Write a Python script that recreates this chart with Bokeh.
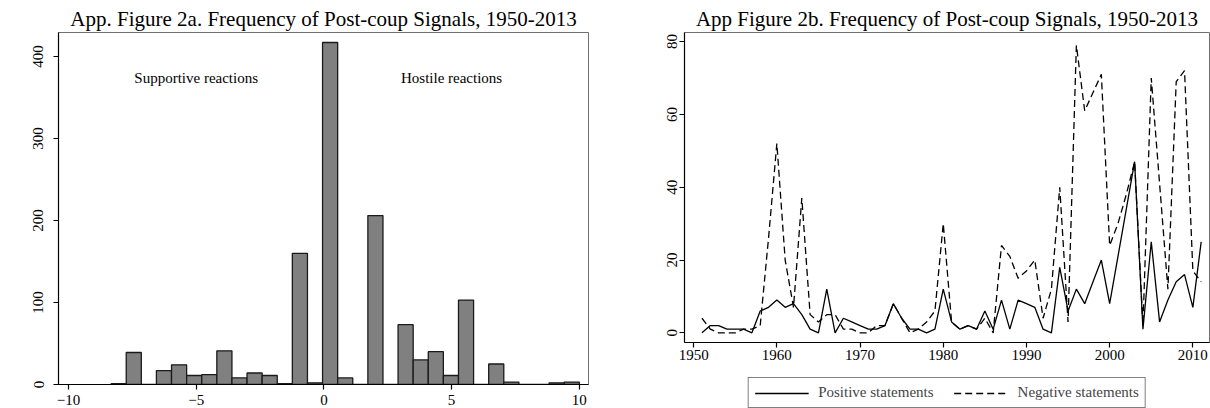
from bokeh.plotting import figure
from bokeh.models import Range1d, Legend, LegendItem, Label, FixedTicker
from bokeh.layouts import row, column
from bokeh.embed import file_html
from bokeh.resources import INLINE
import numpy as np

FONT = "Liberation Serif"

# ---- Panel a: histogram of post-coup signal scores ----
hist_title = "App. Figure 2a. Frequency of Post-coup Signals, 1950-2013"
hist_min = -8.33
hist_max = 10.0
hist_counts = [1, 39, 0, 17, 24, 11, 12, 41, 8, 14, 11, 1, 160, 2, 417, 8,
               0, 206, 0, 73, 30, 40, 11, 103, 0, 25, 3, 0, 0, 2, 3]
hist_xticks = [-10, -5, 0, 5, 10]
hist_yticks = [0, 100, 200, 300, 400]
annot_text = ["Supportive reactions", "Hostile reactions"]
annot_x = [-5, 5]
annot_y = [374, 374]

# ---- Panel b: yearly counts ----
line_title = "App Figure 2b. Frequency of Post-coup Signals, 1950-2013"
years = list(range(1951, 2012))
positive = [0, 2, 2, 1, 1, 1, 0, 6, 7, 9, 7, 8, 5, 1, 0, 12, 0, 4, 3, 2,
            1, 1, 2, 8, 4, 1, 1, 0, 1, 12, 3, 1, 2, 1, 6, 1, 9, 1, 9, 8,
            7, 1, 0, 18, 6, 12, 8, 14, 20, 8, 21, 34, 47, 1, 25, 3, 9, 14, 16, 7,
            25]
negative = [4, 1, 0, 0, 0, 1, 1, 2, 26, 52, 20, 7, 37, 5, 3, 5, 5, 1, 1, 0,
            0, 2, 2, 8, 4, 0, 1, 3, 6, 30, 3, 1, 2, 1, 4, 0, 24, 21, 15, 17,
            20, 4, 12, 40, 3, 79, 61, 66, 71, 24, 30, 38, 47, 2, 70, 41, 12, 69, 72, 17,
            14]
line_xticks = [1950, 1960, 1970, 1980, 1990, 2000, 2010]
line_yticks = [0, 20, 40, 60, 80]
series_labels = ["Positive statements", "Negative statements"]
series_dash = ["solid", "7 4"]


def style(p, xticks, yticks, lab_standoff_x, lab_standoff_y):
    p.background_fill_color = "white"
    p.border_fill_color = "white"
    p.outline_line_color = "#707070"
    p.outline_line_width = 1
    p.xgrid.visible = False
    p.ygrid.visible = False
    p.xaxis.ticker = FixedTicker(ticks=xticks)
    p.yaxis.ticker = FixedTicker(ticks=yticks)
    for ax in (p.xaxis, p.yaxis):
        ax.axis_label = None
        ax.axis_line_color = "black"
        ax.axis_line_width = 1.2
        ax.major_tick_line_color = "black"
        ax.major_tick_line_width = 1.2
        ax.major_tick_out = 5
        ax.major_tick_in = 0
        ax.minor_tick_line_color = None
        ax.major_label_text_font = FONT
        ax.major_label_text_font_size = "15px"
        ax.major_label_text_color = "black"
    p.xaxis.major_label_standoff = lab_standoff_x
    p.yaxis.major_label_standoff = lab_standoff_y
    p.yaxis.major_label_orientation = "vertical"
    p.title.text_font = FONT
    p.title.text_font_size = "21px"
    p.title.text_font_style = "normal"
    p.title.align = "center"
    p.title.text_color = "black"
    p.title.standoff = 4
    p.title.offset = 0


# ---- figure a ----
p1 = figure(frame_width=530, frame_height=352, output_backend="svg", toolbar_location=None,
            x_range=Range1d(-10.39, 10.36), y_range=Range1d(0, 429.2),
            min_border_left=58, min_border_right=12, min_border_top=32,
            min_border_bottom=24, title=hist_title)
edges = np.linspace(hist_min, hist_max, len(hist_counts) + 1)
p1.quad(left=edges[:-1], right=edges[1:], bottom=0, top=hist_counts,
        fill_color="#808080", line_color="#1a1a1a", line_width=1.3)
style(p1, hist_xticks, hist_yticks, 5, 10)
for t, x, y in zip(annot_text, annot_x, annot_y):
    p1.add_layout(Label(x=x, y=y, text=t, text_align="center", text_baseline="middle",
                        text_font=FONT, text_font_size="15px", text_color="black"))

# ---- figure b ----
p2 = figure(frame_width=525, frame_height=310, output_backend="svg", toolbar_location=None,
            x_range=Range1d(1948.9, 2012.0), y_range=Range1d(-2.66, 82.5),
            min_border_left=84, min_border_right=1, min_border_top=32,
            min_border_bottom=26, title=line_title)
p2.line(years, positive, line_color="black", line_width=1.3, line_dash=series_dash[0])
p2.line(years, negative, line_color="black", line_width=1.3, line_dash=series_dash[1])
style(p2, line_xticks, line_yticks, 2, 2)

# ---- legend strip under figure b (legend keys only) ----
p3 = figure(frame_width=525, frame_height=40, output_backend="svg", toolbar_location=None,
            x_axis_location=None, y_axis_location=None,
            x_range=Range1d(0, 1), y_range=Range1d(0, 1),
            min_border_left=84, min_border_right=1, min_border_top=0,
            min_border_bottom=0)
p3.outline_line_color = None
p3.grid.visible = False
p3.background_fill_color = "white"
p3.border_fill_color = "white"
# one off-screen point per key so the legend has an index to draw its sample from
keys = [p3.line(x=[-5], y=[-5], line_color="black", line_width=1.3, line_dash=d)
        for d in series_dash]

legend = Legend(items=[LegendItem(label=lab, renderers=[r], index=0)
                       for lab, r in zip(series_labels, keys)],
                orientation="horizontal", location="top_center")
legend.border_line_color = "black"
legend.border_line_width = 1
legend.background_fill_color = "white"
legend.padding = 6
legend.spacing = 20
legend.glyph_width = 54
legend.glyph_height = 16
legend.label_standoff = 10
legend.label_height = 16
legend.label_text_font = FONT
legend.label_text_font_size = "15px"
legend.margin = 9
p3.add_layout(legend)

layout = row(p1, column(p2, p3))
open("out.html", "w").write(file_html(layout, INLINE))
